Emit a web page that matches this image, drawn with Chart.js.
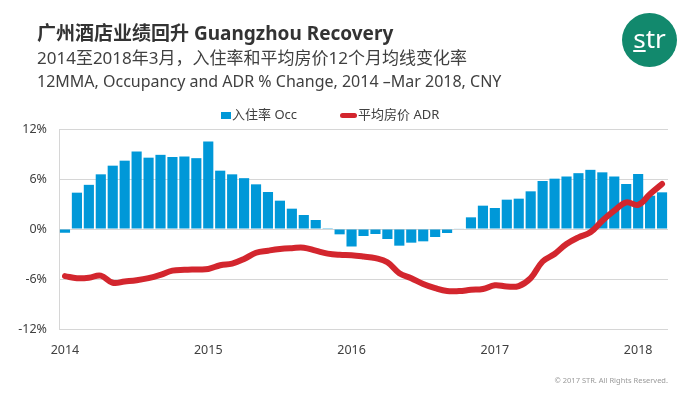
<!DOCTYPE html>
<html lang="zh-CN">
<head>
    <meta charset="UTF-8">
    <title>广州酒店业绩回升 Guangzhou Recovery</title>
    <script src="https://cdn.jsdelivr.net/npm/chart.js"></script>
    <style>
        body {
            margin: 0;
            background: #fff;
            font-family: "Noto Sans", "Noto Sans CJK SC", sans-serif;
        }
        #wrap {
            position: relative;
            width: 700px;
            height: 394px;
            overflow: hidden;
        }
        #wrap canvas {
            position: absolute;
            left: 0;
            top: 0;
        }
        .txt {
            position: absolute;
            white-space: nowrap;
            color: #404040;
        }
        #t1 { left: 37px; top: 21px; font-size: 19px; line-height: 24px; font-weight: bold; color: #333; }
        #t2 { left: 37px; top: 47px; font-size: 17px; line-height: 21px; }
        #t3 { left: 37px; top: 71px; font-size: 16px; line-height: 20px; }
        #logo {
            position: absolute;
            left: 622px;
            top: 13px;
            width: 55px;
            height: 54px;
            border-radius: 50%;
            background: #12896d;
            color: #fff;
            font-size: 26px;
            line-height: 50px;
            text-align: center;
        }
        #legend {
            position: absolute;
            top: 105px;
            left: 0;
            width: 700px;
            font-size: 13px;
            line-height: 18px;
            color: #404040;
        }
        .lg { position: absolute; top: 0; }
        .box { display: inline-block; vertical-align: middle; margin-right: 1px; }
        #copy {
            position: absolute;
            right: 32px;
            top: 375px;
            font-size: 7.5px;
            line-height: 11px;
            color: #9a9a9a;
        }
    </style>
</head>
<body>
<div id="wrap">
    <canvas id="chart" width="700" height="394"></canvas>
    <div class="txt" id="t1">广州酒店业绩回升 Guangzhou Recovery</div>
    <div class="txt" id="t2">2014至2018年3月，入住率和平均房价12个月均线变化率</div>
    <div class="txt" id="t3">12MMA, Occupancy and ADR % Change, 2014 –Mar 2018, CNY</div>
    <div id="logo"><span style="text-decoration: underline;">s</span>tr</div>
    <div id="legend">
        <div class="lg" style="left: 221px;"><span class="box" style="width:10px;height:7px;background:#0098d8;"></span>入住率 Occ</div>
        <div class="lg" style="left: 340px;"><span class="box" style="width:17px;height:5px;border-radius:3px;background:#d3262e;"></span>平均房价 ADR</div>
    </div>
    <div id="copy">© 2017 STR. All Rights Reserved.</div>
</div>

<script>
    // 月份 2014-01 ~ 2018-03
    const months = [
        '2014-01','2014-02','2014-03','2014-04','2014-05','2014-06','2014-07','2014-08','2014-09','2014-10','2014-11','2014-12',
        '2015-01','2015-02','2015-03','2015-04','2015-05','2015-06','2015-07','2015-08','2015-09','2015-10','2015-11','2015-12',
        '2016-01','2016-02','2016-03','2016-04','2016-05','2016-06','2016-07','2016-08','2016-09','2016-10','2016-11','2016-12',
        '2017-01','2017-02','2017-03','2017-04','2017-05','2017-06','2017-07','2017-08','2017-09','2017-10','2017-11','2017-12',
        '2018-01','2018-02','2018-03'
    ];

    // 入住率 12MMA 变化率 (%)
    const occ = [
        -0.45, 4.36, 5.3, 6.56, 7.6, 8.2, 9.3, 8.56, 8.9, 8.64, 8.7, 8.5,
        10.5, 7.0, 6.56, 6.1, 5.36, 4.44, 3.4, 2.44, 1.68, 1.08, 0.1, -0.64,
        -2.1, -0.84, -0.6, -1.2, -2.0, -1.64, -1.48, -0.96, -0.48, 0.05, 1.4, 2.8,
        2.52, 3.52, 3.64, 4.52, 5.76, 6.04, 6.3, 6.7, 7.1, 6.8, 6.3, 5.4,
        6.6, 4.0, 4.4
    ];

    // 平均房价 12MMA 变化率 (%)
    const adr = [
        -5.65, -5.9, -5.85, -5.6, -6.45, -6.3, -6.15, -5.9, -5.5, -5.0, -4.9, -4.85,
        -4.8, -4.35, -4.15, -3.6, -2.85, -2.6, -2.4, -2.3, -2.25, -2.6, -2.95, -3.1,
        -3.15, -3.3, -3.5, -4.0, -5.3, -5.9, -6.6, -7.1, -7.45, -7.45, -7.3, -7.2,
        -6.75, -6.9, -6.85, -5.9, -3.9, -3.0, -1.8, -1.0, -0.4, 1.0, 2.2, 3.2,
        2.9, 4.2, 5.4
    ];

    const yTicks = [-12, -6, 0, 6, 12];

    const ctx = document.getElementById('chart').getContext('2d');
    new Chart(ctx, {
        type: 'bar',
        data: {
            labels: months,
            datasets: [{
                type: 'line',
                label: '平均房价 ADR',
                data: adr,
                borderColor: '#d3262e',
                borderWidth: 6,
                borderCapStyle: 'round',
                borderJoinStyle: 'round',
                pointRadius: 0,
                tension: 0.4,
                order: 0
            }, {
                label: '入住率 Occ',
                data: occ,
                backgroundColor: '#0098d8',
                barPercentage: 0.85,
                categoryPercentage: 1,
                order: 1
            }]
        },
        options: {
            responsive: false,
            animation: false,
            devicePixelRatio: 1,
            layout: { padding: { top: 129, right: 32, bottom: 25, left: 0 } },
            plugins: {
                legend: { display: false },
                tooltip: { enabled: false }
            },
            scales: {
                x: {
                    grid: { display: false },
                    border: { display: false },
                    ticks: {
                        autoSkip: false,
                        maxRotation: 0,
                        padding: 6,
                        color: '#404040',
                        font: { family: 'Noto Sans', size: 12.5 },
                        callback: (v, i) => i % 12 === 0 ? months[i].slice(0, 4) : ''
                    },
                    afterFit: s => { s.height = 40; }
                },
                y: {
                    min: -12,
                    max: 12,
                    afterBuildTicks: s => { s.ticks = yTicks.map(v => ({ value: v })); },
                    grid: { color: '#d6d6d6', drawTicks: false },
                    border: { color: '#d6d6d6' },
                    ticks: {
                        padding: 12,
                        color: '#404040',
                        font: { family: 'Noto Sans', size: 12.5 },
                        callback: v => v + '%'
                    },
                    afterFit: s => { s.width = 59; }
                }
            }
        }
    });
</script>
</body>
</html>
